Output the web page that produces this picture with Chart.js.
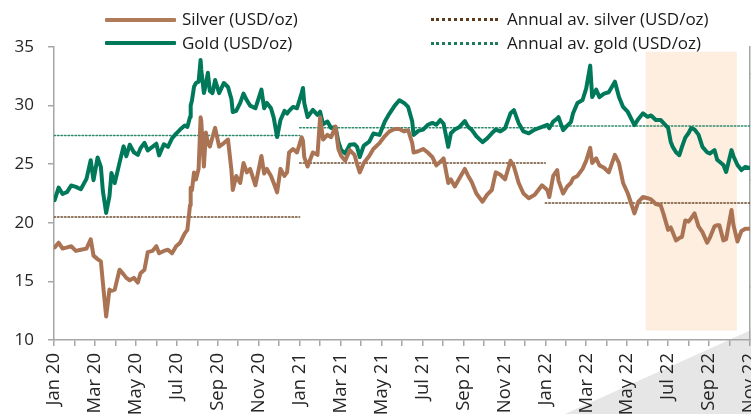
<!DOCTYPE html>
<html>
<head>
<meta charset="utf-8">
<script src="https://cdn.jsdelivr.net/npm/chart.js@4/dist/chart.umd.min.js"></script>
<style>
    html, body { margin: 0; padding: 0; }
    body {
        width: 751px; height: 414px; overflow: hidden; position: relative;
        background: #fff; font-family: "Open Sans", sans-serif; color: #1a1a1a;
    }
    #corner {
        position: absolute; left: 0; top: 0; width: 751px; height: 414px;
        background: #e6e6e6;
        clip-path: polygon(565px 414px, 751px 414px, 751px 330px);
    }
    #chart { position: absolute; left: 0; top: 0; }
    .lg { position: absolute; font-size: 17px; line-height: 20px; white-space: nowrap; }
    .sw { position: absolute; width: 71px; height: 4px; border-radius: 1px; }
    .dots { position: absolute; width: 67px; height: 0; border-top: 3px dotted; }
</style>
</head>
<body>
<div id="corner"></div>
<canvas id="chart" width="830" height="414"></canvas>

<div class="sw" style="left:105px; top:18px; background:#b07b58;"></div>
<div class="lg" style="left:182px; top:9px;">Silver (USD/oz)</div>
<div class="sw" style="left:105px; top:41px; background:#00785a;"></div>
<div class="lg" style="left:182px; top:33px;">Gold (USD/oz)</div>
<div class="dots" style="left:431px; top:18px; border-color:#5c3a1c;"></div>
<div class="lg" style="left:507px; top:9px;">Annual av. silver (USD/oz)</div>
<div class="dots" style="left:431px; top:42px; border-color:#1d7a5d;"></div>
<div class="lg" style="left:507px; top:33px;">Annual av. gold (USD/oz)</div>

<script>
(function () {
    "use strict";

    // observation dates (roughly weekly, plus the big daily swings)
    const dates = [
        '2020-01-02', '2020-01-08', '2020-01-14', '2020-01-21', '2020-01-27',
        '2020-02-03', '2020-02-10', '2020-02-18', '2020-02-24', '2020-02-28',
        '2020-03-05', '2020-03-10', '2020-03-13', '2020-03-18', '2020-03-23', '2020-03-26', '2020-03-31',
        '2020-04-07', '2020-04-13', '2020-04-17', '2020-04-22', '2020-04-28',
        '2020-05-04', '2020-05-08', '2020-05-14', '2020-05-19', '2020-05-26',
        '2020-06-01', '2020-06-05', '2020-06-12', '2020-06-18', '2020-06-24', '2020-06-30',
        '2020-07-06', '2020-07-13', '2020-07-17', '2020-07-21', '2020-07-22', '2020-07-24', '2020-07-27', '2020-07-30',
        '2020-08-03', '2020-08-06', '2020-08-07', '2020-08-11', '2020-08-14', '2020-08-17', '2020-08-20', '2020-08-24', '2020-08-28',
        '2020-09-03', '2020-09-10', '2020-09-16', '2020-09-21', '2020-09-23', '2020-09-28',
        '2020-10-04', '2020-10-09', '2020-10-14', '2020-10-19', '2020-10-27',
        '2020-11-05', '2020-11-09', '2020-11-13', '2020-11-19', '2020-11-23', '2020-11-28',
        '2020-12-03', '2020-12-09', '2020-12-13', '2020-12-16', '2020-12-22', '2020-12-28',
        '2021-01-04', '2021-01-06', '2021-01-08', '2021-01-13', '2021-01-21', '2021-01-28',
        '2021-02-01', '2021-02-05', '2021-02-11', '2021-02-16', '2021-02-22', '2021-02-26',
        '2021-03-02', '2021-03-08', '2021-03-15', '2021-03-22', '2021-03-26', '2021-03-30',
        '2021-04-05', '2021-04-13', '2021-04-19', '2021-04-28',
        '2021-05-06', '2021-05-13', '2021-05-21', '2021-05-28',
        '2021-06-04', '2021-06-10', '2021-06-16', '2021-06-18', '2021-06-25',
        '2021-07-02', '2021-07-09', '2021-07-16', '2021-07-22', '2021-07-28',
        '2021-08-02', '2021-08-09', '2021-08-13', '2021-08-19', '2021-08-26',
        '2021-09-03', '2021-09-08', '2021-09-13', '2021-09-20', '2021-09-29',
        '2021-10-06', '2021-10-13', '2021-10-19', '2021-10-26',
        '2021-11-02', '2021-11-10', '2021-11-15', '2021-11-22', '2021-11-29',
        '2021-12-07', '2021-12-16', '2021-12-27',
        '2022-01-04', '2022-01-07', '2022-01-13', '2022-01-19', '2022-01-21', '2022-01-28',
        '2022-02-03', '2022-02-08', '2022-02-11', '2022-02-17', '2022-02-24',
        '2022-03-01', '2022-03-07', '2022-03-10', '2022-03-16', '2022-03-21', '2022-03-28',
        '2022-04-04', '2022-04-13', '2022-04-19', '2022-04-25',
        '2022-05-02', '2022-05-12', '2022-05-18', '2022-05-25',
        '2022-06-01', '2022-06-06', '2022-06-13', '2022-06-20', '2022-06-24',
        '2022-07-01', '2022-07-05', '2022-07-08', '2022-07-13', '2022-07-18', '2022-07-22', '2022-07-27',
        '2022-08-01', '2022-08-05', '2022-08-10', '2022-08-16', '2022-08-22', '2022-08-29',
        '2022-09-02', '2022-09-09', '2022-09-13', '2022-09-16', '2022-09-22', '2022-09-26',
        '2022-10-04', '2022-10-07', '2022-10-13', '2022-10-19', '2022-10-25',
        '2022-11-01'
    ];

    // silver, USD/oz (left axis)
    const silver = [
        17.9, 18.3, 17.8, 17.9, 18.0,
        17.6, 17.7, 17.8, 18.6, 17.2,
        16.9, 16.7, 14.9, 12.0, 14.3, 14.2, 14.3,
        16.0, 15.6, 15.3, 15.1, 15.3,
        14.9, 15.7, 16.0, 17.5, 17.6,
        18.0, 17.4, 17.6, 17.7, 17.4, 18.0,
        18.3, 19.1, 19.4, 21.5, 23.0, 22.8, 24.3, 23.7,
        24.6, 29.0, 28.7, 24.8, 27.7, 26.8, 26.5, 27.3, 28.1,
        26.5, 26.8, 27.1, 24.5, 22.8, 24.0,
        23.4, 25.1, 24.3, 24.6, 23.2,
        25.7, 24.2, 24.6, 24.0, 23.4, 22.6,
        24.6, 24.0, 24.3, 26.0, 26.3, 26.0,
        27.3, 27.0, 25.6, 24.8, 26.0, 25.8,
        29.0, 27.1, 27.5, 27.3, 28.2, 26.3,
        25.7, 25.3, 26.2, 25.8, 25.0, 24.3,
        25.1, 25.7, 26.3, 26.8,
        27.4, 27.8, 28.0, 28.0,
        27.8, 27.9, 26.8, 26.0, 26.1,
        26.3, 26.0, 25.6, 24.9, 25.2,
        25.5, 23.4, 23.7, 23.1, 23.8,
        24.6, 24.0, 23.5, 22.5, 21.8,
        22.4, 22.8, 24.3, 24.1,
        23.7, 25.3, 24.8, 23.4, 22.5,
        22.1, 22.4, 23.2,
        22.8, 22.2, 24.0, 24.5, 23.6, 22.5,
        23.1, 23.4, 23.8, 24.0, 24.6,
        25.3, 26.4, 25.1, 25.5, 24.9, 24.7,
        24.3, 25.8, 25.1, 23.4,
        22.5, 20.8, 21.8, 22.2,
        22.1, 22.0, 21.6, 21.5, 20.8,
        19.4, 19.6, 19.2, 18.5, 18.7, 18.8, 20.2,
        20.1, 20.4, 20.8, 19.7, 19.2, 18.3,
        18.7, 19.7, 19.8, 19.8, 18.5, 18.6,
        21.1, 19.8, 18.4, 19.3, 19.5,
        19.5
    ];

    // gold, USD/oz (right axis, cut off in the picture)
    const gold = [
        1525, 1572, 1548, 1556, 1580,
        1575, 1566, 1605, 1675, 1600,
        1685, 1650, 1560, 1477, 1540, 1627, 1589,
        1665, 1727, 1690, 1733, 1705,
        1695, 1720, 1740, 1712, 1725,
        1737, 1693, 1735, 1725, 1757, 1775,
        1790, 1805, 1800, 1837, 1880, 1900, 1950, 1965,
        1970, 2051, 2015, 1927, 1960, 2003, 1935, 1927, 1976,
        1927, 1965, 1950, 1905, 1856, 1860,
        1890, 1925, 1900, 1880, 1870,
        1940, 1870, 1890, 1870, 1835, 1762,
        1826, 1860, 1850, 1860, 1875, 1870,
        1927, 1946, 1890, 1837, 1864, 1845,
        1857, 1810, 1820, 1796, 1800, 1745,
        1713, 1700, 1733, 1735, 1725, 1687,
        1730, 1745, 1775, 1770,
        1820, 1850, 1880, 1900,
        1890, 1875, 1820, 1770, 1785,
        1790, 1808, 1815, 1808, 1826,
        1812, 1725, 1776, 1790, 1800,
        1822, 1800, 1790, 1765, 1743,
        1757, 1776, 1790, 1783,
        1795, 1851, 1863, 1814, 1783,
        1776, 1790, 1800,
        1808, 1795, 1820, 1831, 1837, 1788,
        1805, 1818, 1851, 1890, 1901,
        1945, 2030, 1912, 1940, 1912, 1925,
        1930, 1970, 1912, 1875,
        1856, 1807, 1830, 1851,
        1838, 1843, 1826, 1826, 1815,
        1796, 1743, 1725, 1705, 1694, 1725, 1760,
        1777, 1796, 1790, 1771, 1725, 1705,
        1700, 1713, 1676, 1670, 1657, 1631,
        1713, 1690, 1657, 1638, 1650,
        1646
    ];

    // annual averages
    const avgYears = [2020, 2021, 2022];
    const silverAvg = [20.5, 25.1, 21.7];
    const goldAvg = [1768, 1797, 1803];

    const tickLabels = [
        'Jan 20', 'Mar 20', 'May 20', 'Jul 20', 'Sep 20', 'Nov 20',
        'Jan 21', 'Mar 21', 'May 21', 'Jul 21', 'Sep 21', 'Nov 21',
        'Jan 22', 'Mar 22', 'May 22', 'Jul 22', 'Sep 22', 'Nov 22'
    ];

    // highlighted period
    const shadeFrom = '2022-05-29', shadeTo = '2022-10-12';

    if (dates.length !== silver.length || dates.length !== gold.length) {
        console.error('length mismatch', dates.length, silver.length, gold.length);
    }

    // months since Jan 2020
    function monthIndex(d) {
        const p = d.split('-').map(Number);
        const dim = new Date(p[0], p[1], 0).getDate();
        return (p[0] - 2020) * 12 + (p[1] - 1) + (p[2] - 1) / dim;
    }
    const xMax = 34;

    const silverPts = dates.map((d, i) => ({ x: monthIndex(d), y: silver[i] }));
    const goldPts = dates.map((d, i) => ({ x: monthIndex(d), y: gold[i] }));

    const avgSets = [];
    avgYears.forEach((yr, i) => {
        const x0 = (yr - 2020) * 12;
        const x1 = Math.min(x0 + 12, xMax);
        avgSets.push({
            data: [{ x: x0, y: silverAvg[i] }, { x: x1, y: silverAvg[i] }],
            yAxisID: 'y', borderColor: '#6e4a2c', borderWidth: 1.5, borderDash: [1.5, 2]
        });
        avgSets.push({
            data: [{ x: x0, y: goldAvg[i] }, { x: x1, y: goldAvg[i] }],
            yAxisID: 'y1', borderColor: '#2f8a6d', borderWidth: 1.5, borderDash: [1.5, 2]
        });
    });

    const shadePlugin = {
        id: 'shade',
        beforeDatasetsDraw(chart) {
            const { ctx, scales } = chart;
            const xa = scales.x.getPixelForValue(monthIndex(shadeFrom));
            const xb = scales.x.getPixelForValue(monthIndex(shadeTo));
            const ya = scales.y.getPixelForValue(34.6);
            const yb = scales.y.getPixelForValue(10.8);
            ctx.save();
            ctx.fillStyle = '#fdeee0';
            ctx.fillRect(xa, ya, xb - xa, yb - ya);
            ctx.restore();
        }
    };

    Chart.defaults.font.family = '"Open Sans", sans-serif';
    Chart.defaults.font.size = 17;
    Chart.defaults.color = '#262626';

    const axisGrey = '#a6a6a6';

    const config = {
        type: 'line',
        data: {
            datasets: [{
                label: 'Silver (USD/oz)',
                data: silverPts,
                yAxisID: 'y',
                borderColor: '#aa7454',
                borderWidth: 4
            }, {
                label: 'Gold (USD/oz)',
                data: goldPts,
                yAxisID: 'y1',
                borderColor: '#00785a',
                borderWidth: 4
            }].concat(avgSets)
        },
        options: {
            responsive: false,
            animation: false,
            devicePixelRatio: 1,
            elements: { point: { radius: 0 }, line: { tension: 0, borderCapStyle: 'round', borderJoinStyle: 'round' } },
            layout: { padding: { top: 47, left: 0, right: 0, bottom: 0 } },
            plugins: { legend: { display: false }, tooltip: { enabled: false } },
            scales: {
                x: {
                    type: 'linear',
                    min: 0,
                    max: xMax,
                    afterFit(s) { s.height = 74; },
                    grid: { drawOnChartArea: false, drawTicks: true, tickLength: 6, color: axisGrey, lineWidth: 1.5 },
                    border: { display: true, color: axisGrey, width: 1.5 },
                    ticks: {
                        stepSize: 1,
                        maxTicksLimit: 40,
                        autoSkip: false,
                        minRotation: 90,
                        maxRotation: 90,
                        padding: 7,
                        font: { size: 18.5 },
                        callback: (v) => (v % 2 === 0 ? tickLabels[v / 2] : '')
                    }
                },
                y: {
                    position: 'left',
                    min: 10,
                    max: 35,
                    afterFit(s) { s.width = 54; },
                    grid: { drawOnChartArea: false, drawTicks: true, tickLength: 6, color: axisGrey, lineWidth: 1.5 },
                    border: { display: true, color: axisGrey, width: 1.5 },
                    ticks: { stepSize: 5, padding: 14 }
                },
                y1: {
                    position: 'right',
                    min: 1000,
                    max: 2100,
                    afterFit(s) { s.width = 80; },
                    afterBuildTicks(s) { s.ticks = [1200, 1600, 2000].map(v => ({ value: v })); },
                    grid: { drawOnChartArea: false, drawTicks: true, tickLength: 6, color: axisGrey, lineWidth: 1.5 },
                    border: { display: true, color: axisGrey, width: 1.5 },
                    ticks: { padding: 6 }
                }
            }
        },
        plugins: [shadePlugin]
    };

    const myChart = new Chart(document.getElementById('chart'), config);
})();
</script>
</body>
</html>
